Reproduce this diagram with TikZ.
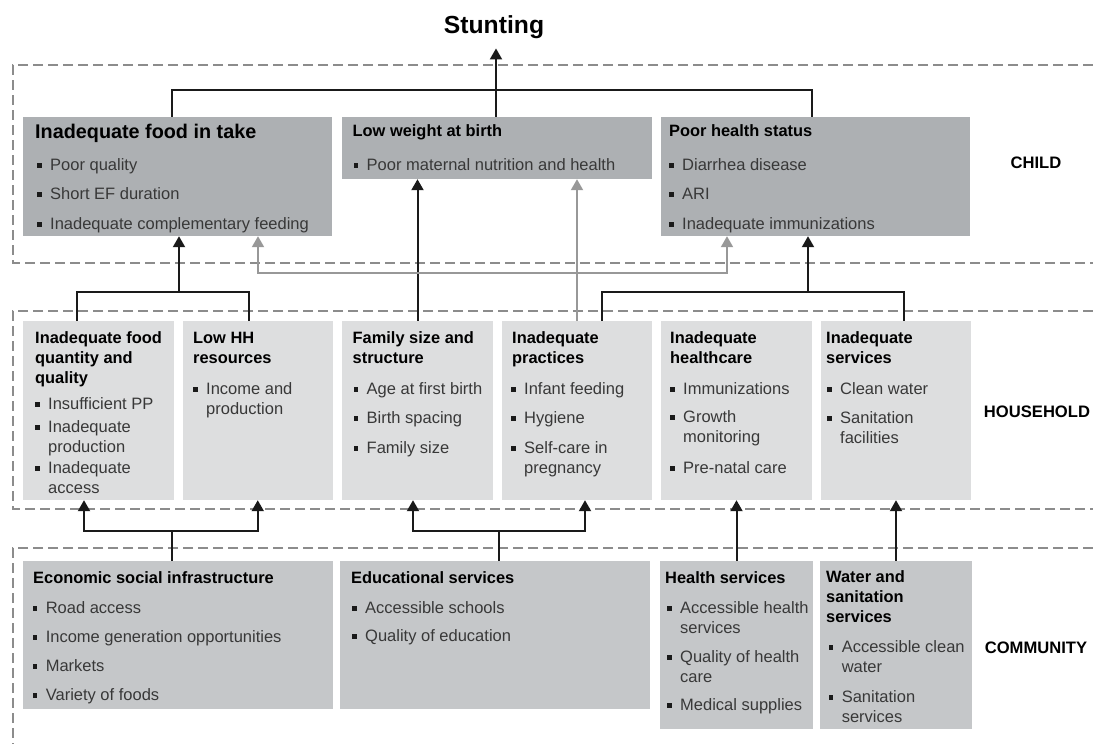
\documentclass[tikz,border=0pt]{standalone}
\usepackage{fontspec}
\setmainfont{Liberation Sans}
\usetikzlibrary{arrows.meta,calc,fit}
\definecolor{cchild}{HTML}{ADB0B3}
\definecolor{chouse}{HTML}{DDDEDF}
\definecolor{ccomm}{HTML}{C5C7C9}
\definecolor{framecol}{HTML}{8C8C8C}
\definecolor{linecol}{HTML}{1A1A1A}
\definecolor{graycol}{HTML}{989898}
\definecolor{txtcol}{HTML}{383838}
\newcommand{\bul}{\makebox[0pt][r]{\raisebox{2.3pt}{\color{linecol}\rule{4.3pt}{4.3pt}}\hspace{8.5pt}}}
\tikzset{
  boxc/.style={fill=cchild, inner sep=0pt, draw=none},
  boxh/.style={fill=chouse, inner sep=0pt, draw=none},
  boxm/.style={fill=ccomm, inner sep=0pt, draw=none},
  frame/.style={draw=framecol, line width=2.2pt, dash pattern=on 10pt off 5pt},
  conn/.style={draw=linecol, line width=2pt},
  arr/.style={conn, -{Triangle[width=12pt,length=11pt]}},
  gconn/.style={draw=graycol, line width=2pt},
  garr/.style={gconn, -{Triangle[width=12pt,length=11pt]}},
  ttl/.style={anchor=base west, inner sep=0pt, align=left, text=black, font=\fontsize{16.4}{20}\selectfont\bfseries},
  ttlL/.style={ttl, font=\fontsize{19.8}{24}\selectfont\bfseries},
  itm/.style={anchor=base west, inner sep=0pt, align=left, text=txtcol, font=\fontsize{16.5}{20}\selectfont},
  lvl/.style={inner sep=0pt, text=black, font=\fontsize{16.6}{20}\selectfont\bfseries},
}
\begin{document}
\begin{tikzpicture}[x=1pt,y=-1pt]
\useasboundingbox (0,0) rectangle (1093,744);
% frames
\draw[frame] (1093,65) -- (13,65) -- (13,263) -- (1093,263);
\draw[frame] (1093,311) -- (13,311) -- (13,509) -- (1093,509);
\draw[frame] (1093,548) -- (13,548) -- (13,744);
% title
\node[anchor=base, inner sep=0pt, font=\fontsize{24.7}{28}\selectfont\bfseries] (st) at (494,33) {Stunting};
% level labels
\node[lvl] (lchild) at (1036,163) {CHILD};
\node[lvl] (lhouse) at (1037,412) {HOUSEHOLD};
\node[lvl] (lcomm) at (1036,648) {COMMUNITY};
% child boxes
\node[boxc, fit={(23,117) (332,236)}] (b1) {};
\node[boxc, fit={(342,117) (652,179)}] (b2) {};
\node[boxc, fit={(661,117) (970,236)}] (b3) {};
% household boxes
\node[boxh, fit={(23,321) (174,500)}] (h1) {};
\node[boxh, fit={(183,321) (332.5,500)}] (h2) {};
\node[boxh, fit={(342,321) (493,500)}] (h3) {};
\node[boxh, fit={(502,321) (652,500)}] (h4) {};
\node[boxh, fit={(661,321) (812,500)}] (h5) {};
\node[boxh, fit={(821,321) (971,500)}] (h6) {};
% community boxes
\node[boxm, fit={(23,561) (332.5,709)}] (c1) {};
\node[boxm, fit={(340,561) (650,709)}] (c2) {};
\node[boxm, fit={(660,561) (813,729)}] (c3) {};
\node[boxm, fit={(820,561) (972,729)}] (c4) {};
% child texts
\node[ttlL] (b1t) at (35,138) {Inadequate food in take};
\node[itm] (b1a) at (50,170) {\bul Poor quality};
\node[itm] (b1b) at (50,199) {\bul Short EF duration};
\node[itm] (b1c) at (50,229) {\bul Inadequate complementary feeding};
\node[ttl] (b2t) at (352.5,136) {Low weight at birth};
\node[itm] (b2a) at (366.5,170) {\bul Poor maternal nutrition and health};
\node[ttl] (b3t) at (669,136) {Poor health status};
\node[itm] (b3a) at (682,170) {\bul Diarrhea disease};
\node[itm] (b3b) at (682,199) {\bul ARI};
\node[itm] (b3c) at (682,229) {\bul Inadequate immunizations};
% household texts (multi-line nodes are placed by their last baseline)
\node[ttl] (h1t) at (35,383) {Inadequate food\\quantity and\\quality};
\node[itm] (h1a) at (48,409) {\bul Insufficient PP};
\node[itm] (h1b) at (48,452) {\bul Inadequate\\production};
\node[itm] (h1c) at (48,493) {\bul Inadequate\\access};
\node[ttl] (h2t) at (193,363) {Low HH\\resources};
\node[itm] (h2a) at (206,414) {\bul Income and\\production};
\node[ttl] (h3t) at (352.5,363) {Family size and\\structure};
\node[itm] (h3a) at (366.5,394) {\bul Age at first birth};
\node[itm] (h3b) at (366.5,423) {\bul Birth spacing};
\node[itm] (h3c) at (366.5,453) {\bul Family size};
\node[ttl] (h4t) at (512,363) {Inadequate\\practices};
\node[itm] (h4a) at (524,394) {\bul Infant feeding};
\node[itm] (h4b) at (524,423) {\bul Hygiene};
\node[itm] (h4c) at (524,473) {\bul Self-care in\\pregnancy};
\node[ttl] (h5t) at (670,363) {Inadequate\\healthcare};
\node[itm] (h5a) at (683,394) {\bul Immunizations};
\node[itm] (h5b) at (683,442) {\bul Growth\\monitoring};
\node[itm] (h5c) at (683,473) {\bul Pre-natal care};
\node[ttl] (h6t) at (826,363) {Inadequate\\services};
\node[itm] (h6a) at (840,394) {\bul Clean water};
\node[itm] (h6b) at (840,443) {\bul Sanitation\\facilities};
% community texts
\node[ttl] (c1t) at (33,583) {Economic social infrastructure};
\node[itm] (c1a) at (45.6,613) {\bul Road access};
\node[itm] (c1b) at (45.6,642) {\bul Income generation opportunities};
\node[itm] (c1c) at (45.6,671) {\bul Markets};
\node[itm] (c1d) at (45.6,700) {\bul Variety of foods};
\node[ttl] (c2t) at (351,583) {Educational services};
\node[itm] (c2a) at (365,613) {\bul Accessible schools};
\node[itm] (c2b) at (365,641) {\bul Quality of education};
\node[ttl] (c3t) at (665,583) {Health services};
\node[itm] (c3a) at (680,633) {\bul Accessible health\\services};
\node[itm] (c3b) at (680,682) {\bul Quality of health\\care};
\node[itm] (c3c) at (680,710) {\bul Medical supplies};
\node[ttl] (c4t) at (826,622) {Water and\\sanitation\\services};
\node[itm] (c4a) at (841.6,672) {\bul Accessible clean\\water};
\node[itm] (c4b) at (841.6,722) {\bul Sanitation\\services};
% junction coordinates
\coordinate (cj) at (496,90);
\coordinate (jh1) at (179,292);
\coordinate (jh3) at (808,292);
\coordinate (gj) at (577,273);
\coordinate (jc1) at (172,531);
\coordinate (jc2) at (499,531);
% child -> stunting
\draw[conn] ($(b1.north)+(-5.5,0)$) |- (cj) -| ($(b3.north)+(-3.5,0)$);
\draw[arr] (b2.north -| cj) -- ([yshift=-10pt]st.south -| cj);
% household -> child (black)
\draw[conn] ($(h1.north)+(-21.5,0)$) |- (jh1) -| ($(h2.north)+(-8.75,0)$);
\draw[arr] (jh1) -- (jh1 |- b1.south);
\draw[arr] (h3.north) -- (h3.north |- b2.south);
\draw[conn] ($(h4.north)+(25,0)$) |- (jh3) -| ($(h6.north)+(8,0)$);
\draw[conn] ($(h5.north)+(-3.5,0)$) -- ($(h5.north)+(-3.5,0)$ |- jh3);
\draw[arr] (jh3) -- (jh3 |- b3.south);
% household -> child (gray)
\draw[garr] (h4.north) -- (h4.north |- b2.south);
\draw[garr] (gj) -| ($(b1.south)+(80.5,0)$);
\draw[garr] (gj) -| ($(b3.south)+(-88.5,0)$);
% community -> household
\draw[conn] ($(c1.north)+(-5.75,0)$) -- (jc1);
\draw[arr] (jc1) -| ($(h1.south)+(-14.5,0)$);
\draw[arr] (jc1) -| (h2.south);
\draw[conn] ($(c2.north)+(4,0)$) -- (jc2);
\draw[arr] (jc2) -| ($(h3.south)+(-4.5,0)$);
\draw[arr] (jc2) -| ($(h4.south)+(8,0)$);
\draw[arr] (c3.north) -- (h5.south);
\draw[arr] (c4.north) -- (h6.south);
\end{tikzpicture}
\end{document}
